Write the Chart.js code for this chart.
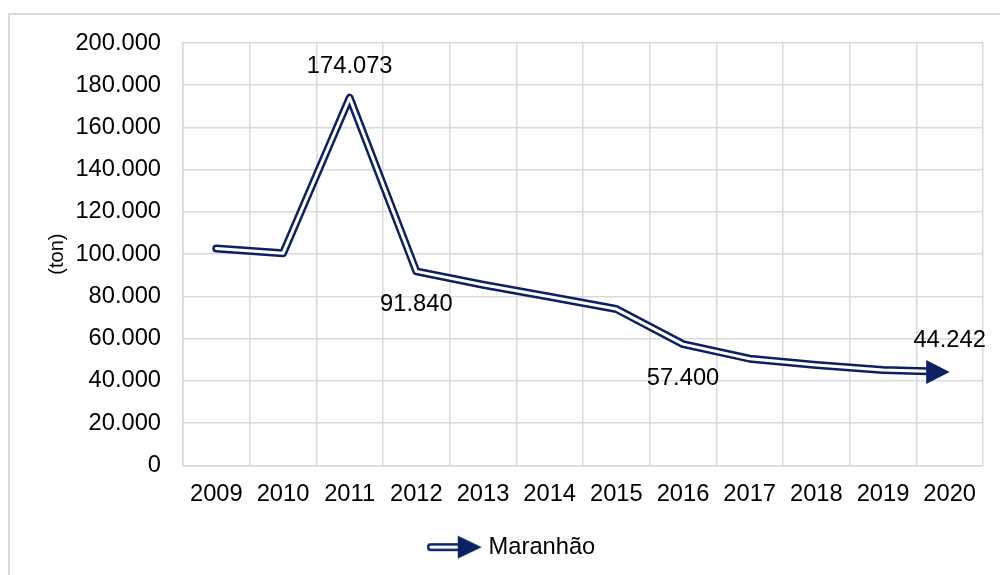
<!DOCTYPE html>
<html>
<head>
<meta charset="utf-8">
<script src="https://cdn.jsdelivr.net/npm/chart.js@4"></script>
<style>
  html, body { margin: 0; padding: 0; background: #fff; overflow: hidden; }
  #wrap { position: relative; width: 1000px; height: 575px; }
  #frame { position: absolute; left: 8px; top: 13px; width: 1100px; height: 700px; border: 2px solid #d9d9d9; box-sizing: border-box; }
  #c { position: absolute; left: 0; top: 0; }
</style>
</head>
<body>
<div id="wrap">
  <div id="frame"></div>
  <canvas id="c" width="1000" height="575"></canvas>
</div>
<script>
const years = ['2009','2010','2011','2012','2013','2014','2015','2016','2017','2018','2019','2020'];
const maranhao = [102700, 100400, 174073, 91840, 85500, 79800, 74000, 57400, 50500, 47500, 45100, 44242];
const labelledIdx = [2, 3, 7, 11];
const yTicks = [0, 20000, 40000, 60000, 80000, 100000, 120000, 140000, 160000, 180000, 200000];
const seriesName = 'Maranhão';
const axisTitle = '(ton)';

const NAVY = '#0b2163';
const FONT = 'Liberation Sans, Arial, sans-serif';
const FS = 23.7;

function fmt(v) { return String(v).replace(/\B(?=(\d{3})+(?!\d))/g, '.'); }

// legend icon (double line + arrow)
const icon = document.createElement('canvas');
icon.width = 56; icon.height = 26;
(function () {
  const g = icon.getContext('2d');
  g.lineCap = 'round';
  g.strokeStyle = NAVY; g.lineWidth = 8;
  g.beginPath(); g.moveTo(4, 13); g.lineTo(34, 13); g.stroke();
  g.strokeStyle = '#fff'; g.lineWidth = 3;
  g.beginPath(); g.moveTo(4, 13); g.lineTo(34, 13); g.stroke();
  g.fillStyle = NAVY;
  g.beginPath(); g.moveTo(31, 1.5); g.lineTo(55, 13); g.lineTo(31, 24.5); g.closePath(); g.fill();
})();

const arrowPlugin = {
  id: 'arrowEnd',
  beforeDatasetsDraw(chart) {
    const meta = chart.getDatasetMeta(0);
    const last = meta.data[meta.data.length - 1];
    chart.ctx.save();
    chart.ctx.beginPath();
    chart.ctx.rect(0, 0, last.x - 23, chart.height);
    chart.ctx.clip();
  },
  afterDatasetsDraw(chart) {
    const ctx = chart.ctx;
    ctx.restore();
    const meta = chart.getDatasetMeta(0);
    const last = meta.data[meta.data.length - 1];
    ctx.save();
    ctx.fillStyle = NAVY;
    ctx.beginPath();
    ctx.moveTo(last.x - 23.5, last.y - 12);
    ctx.lineTo(last.x, last.y);
    ctx.lineTo(last.x - 23.5, last.y + 12);
    ctx.closePath();
    ctx.fill();
    // data labels
    const offsets = { 2: -31, 3: 33, 7: 34, 11: -31 };
    ctx.font = FS + 'px ' + FONT;
    ctx.fillStyle = '#000';
    ctx.textAlign = 'center';
    ctx.textBaseline = 'middle';
    labelledIdx.forEach(i => {
      const p = meta.data[i];
      ctx.fillText(fmt(maranhao[i]), p.x, p.y + offsets[i]);
    });
    ctx.restore();
  }
};

new Chart(document.getElementById('c'), {
  type: 'line',
  data: {
    labels: years,
    datasets: [
      { label: seriesName, data: maranhao, borderColor: NAVY, borderWidth: 8, backgroundColor: NAVY,
        pointRadius: 0, pointHoverRadius: 0, tension: 0, borderCapStyle: 'round', borderJoinStyle: 'round',
        pointStyle: icon, fill: false, order: 1 },
      { label: '_inner', data: maranhao, borderColor: '#ffffff', borderWidth: 3,
        pointRadius: 0, pointHoverRadius: 0, tension: 0, borderCapStyle: 'round', borderJoinStyle: 'round', fill: false, order: 0 }
    ]
  },
  options: {
    responsive: false,
    animation: false,
    events: [],
    layout: { padding: { left: 45, right: 17, top: 43, bottom: 6 } },
    scales: {
      x: {
        offset: true,
        grid: { offset: true, color: '#d9d9d9', lineWidth: 1.5, drawTicks: false },
        border: { color: '#d9d9d9', width: 1.5 },
        ticks: { color: '#000', font: { family: FONT, size: FS }, padding: 15, maxRotation: 0, autoSkip: false },
        afterFit(s) { s.height = 60; }
      },
      y: {
        min: 0, max: 200000,
        afterBuildTicks(s) { s.ticks = yTicks.map(v => ({ value: v })); },
        grid: { color: '#d9d9d9', lineWidth: 1.5, drawTicks: false },
        border: { color: '#d9d9d9', width: 1.5 },
        ticks: { color: '#000', font: { family: FONT, size: FS }, padding: 22, callback: v => fmt(v) },
        title: { display: true, text: axisTitle, color: '#000', font: { family: FONT, size: 20 }, padding: { top: 0, bottom: 0 } },
        afterFit(s) { s.width = 138; }
      }
    },
    plugins: {
      legend: {
        position: 'bottom',
        labels: {
          usePointStyle: true,
          pointStyleWidth: 44,
          boxHeight: 22,
          color: '#000',
          font: { family: FONT, size: FS },
          padding: 10,
          filter: item => item.text !== '_inner'
        }
      },
      tooltip: { enabled: false }
    }
  },
  plugins: [arrowPlugin]
});
</script>
</body>
</html>
